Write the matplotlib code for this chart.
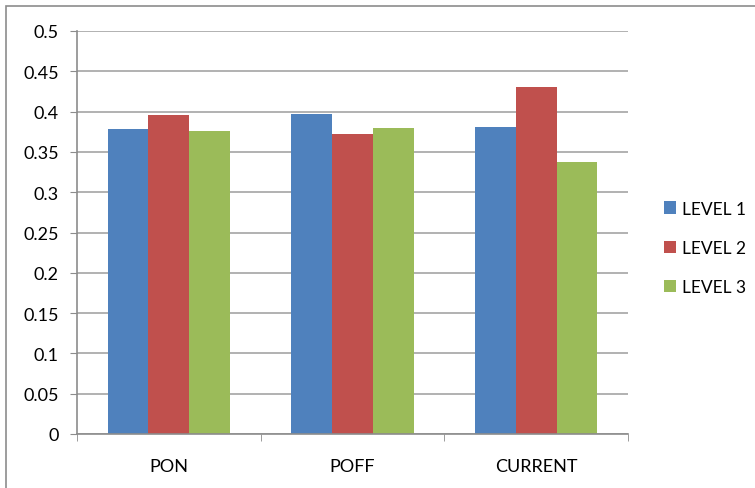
import numpy as np
import matplotlib.pyplot as plt
from matplotlib.patches import Rectangle

categories = ['PON', 'POFF', 'CURRENT']
series_names = ['LEVEL 1', 'LEVEL 2', 'LEVEL 3']
level1 = [0.378, 0.397, 0.381]
level2 = [0.396, 0.372, 0.431]
level3 = [0.376, 0.380, 0.337]
yticks = [0, 0.05, 0.1, 0.15, 0.2, 0.25, 0.3, 0.35, 0.4, 0.45, 0.5]

colors = ['#4F81BD', '#C0504D', '#9BBB59']

plt.rcParams['font.family'] = ['Lato', 'DejaVu Sans']

fig = plt.figure(figsize=(7.55, 4.89), dpi=100)
ax = fig.add_axes([77 / 755, 1 - 435 / 489, (628 - 77) / 755, (435 - 32) / 489])

# outer chart frame
fig.patches.append(Rectangle((6 / 755, -0.1), 1.2, 1 - 7 / 489 + 0.1,
                             transform=fig.transFigure, fill=False,
                             edgecolor='#8c8c8c', linewidth=1.2))

x = np.arange(len(categories))
w = 1 / 4.5
for i, (vals, name) in enumerate(zip([level1, level2, level3], series_names)):
    ax.bar(x + (i - 1) * w, vals, width=w, color=colors[i], label=name, zorder=3)

ax.set_xlim(-0.5, len(categories) - 0.5)
ax.set_ylim(0, 0.5)
ax.set_yticks(yticks)
ax.set_yticklabels([f'{t:g}' for t in yticks])
ax.yaxis.grid(True, color='#ababab', linewidth=1.3, zorder=0)

ax.set_xticks(x)
ax.set_xticklabels(categories)
ax.set_xticks(np.arange(-0.5, len(categories)), minor=True)
ax.tick_params(axis='x', which='major', length=0, pad=17, labelsize=13)
ax.tick_params(axis='x', which='minor', length=5, color='#8c8c8c')
ax.tick_params(axis='y', length=5, color='#8c8c8c', labelsize=13, pad=8)

for s in ['top', 'right']:
    ax.spines[s].set_visible(False)
for s in ['left', 'bottom']:
    ax.spines[s].set_color('#8c8c8c')
    ax.spines[s].set_linewidth(1.2)
    ax.spines[s].set_zorder(4)

fig.legend(loc='center left', bbox_to_anchor=(648 / 755, 1 - 249 / 489),
           frameon=False, fontsize=12.5, handlelength=0.7, handleheight=0.7,
           handletextpad=0.35, labelspacing=1.35)

fig.savefig('out.png', dpi=100)
